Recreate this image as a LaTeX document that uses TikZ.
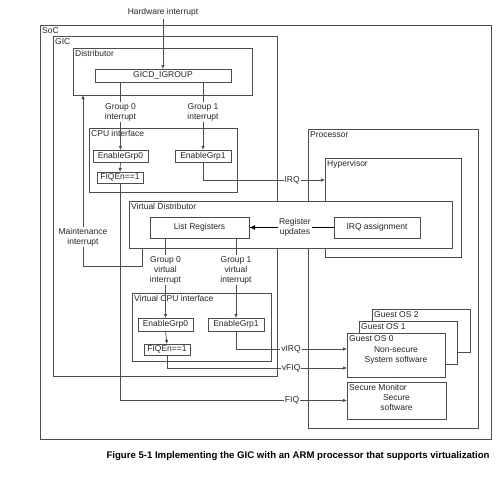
\documentclass[tikz,border=0pt]{standalone}
\usepackage{fontspec}
\setmainfont{Liberation Sans}
\usetikzlibrary{arrows.meta,calc}
\begin{document}
\begin{tikzpicture}[x=1pt,y=-1pt,
  every node/.style={font=\fontsize{8.5}{10}\selectfont, text=black!85},
  frame/.style={draw=black!70, line width=0.7pt, fill=white, anchor=north west, inner sep=0pt, outer sep=0pt},
  corner/.style={label={[anchor=north west, inner sep=2pt, font=\fontsize{8.5}{10}\selectfont, text=black!85]north west:#1}},
  lbl/.style={fill=white, inner sep=1pt, align=center},
  conn/.style={draw=black!70, line width=0.7pt},
  arr/.style={conn, -{Latex[length=4pt,width=3.5pt]}},
  thickarr/.style={draw=black, line width=1.6pt, -{Latex[length=6pt,width=5pt]}}
]
\useasboundingbox (0,0) rectangle (499,479);

% outer frames
\node[frame, minimum width=451, minimum height=414, corner=SoC] (soc) at (40,25) {};
\node[frame, minimum width=224, minimum height=340, corner=GIC] (gic) at (53,36) {};
\node[frame, minimum width=179, minimum height=47, corner=Distributor] (dist) at (73,48) {};
\node[frame, minimum width=136, minimum height=13] (gicd) at (95,69) {GICD\_IGROUP};
\node[frame, minimum width=148, minimum height=64, corner={CPU interface}] (cpu) at (89,128) {};
\node[frame, minimum width=55, minimum height=12] (en0) at (93,150) {EnableGrp0};
\node[frame, minimum width=56, minimum height=12] (en1) at (175,150) {EnableGrp1};
\node[frame, minimum width=46, minimum height=11] (fiq0) at (97,172) {FIQEn==1};
\node[frame, minimum width=170, minimum height=299, corner=Processor] (proc) at (308,129) {};
\node[frame, minimum width=136, minimum height=99, corner=Hypervisor] (hyp) at (325,158) {};

% virtual distributor (drawn over)
\node[frame, minimum width=323, minimum height=47, corner={Virtual Distributor}] (vd) at (129,201) {};
\node[frame, minimum width=99, minimum height=21] (lr) at (150,217) {List Registers};
\node[frame, minimum width=86, minimum height=21] (irqa) at (334,217) {IRQ assignment};

% virtual CPU interface
\node[frame, minimum width=139, minimum height=68, corner={Virtual CPU interface}] (vcpu) at (132,293) {};
\node[frame, minimum width=55, minimum height=13] (ven0) at (138,318) {EnableGrp0};
\node[frame, minimum width=56, minimum height=13] (ven1) at (208,318) {EnableGrp1};
\node[frame, minimum width=46, minimum height=11] (vfiq0) at (144,344) {FIQEn==1};

% guest OSes and secure monitor
\node[frame, minimum width=98, minimum height=43, corner={Guest OS 2}] (g2) at (372,309) {};
\node[frame, minimum width=98, minimum height=43, corner={Guest OS 1}] (g1) at (359,321) {};
\node[frame, minimum width=98, minimum height=44, corner={Guest OS 0}, align=center] (g0) at (347,333) {Non-secure\\System software};
\node[frame, minimum width=99, minimum height=37, corner={Secure Monitor}] (sm) at (347,382) {\raisebox{-5pt}[0pt][0pt]{\begin{tabular}{@{}c@{}}Secure\\software\end{tabular}}};

% hardware interrupt
\node (hw) at (163,12) {Hardware interrupt};
\draw[arr] (hw.south) -- (gicd.north);

% physical groups
\draw[arr] (gicd.south -| en0.north) -- node[lbl, pos=0.44] {Group 0\\interrupt} (en0.north);
\draw[arr] (gicd.south -| en1.north) -- node[lbl, pos=0.44] {Group 1\\interrupt} (en1.north);
\draw[arr] (en0.south) -- (fiq0.north);

% IRQ to hypervisor
\draw[arr] (en1.south) |- node[lbl, pos=0.865] {IRQ} ([yshift=-22pt]hyp.north west);

% FIQ to secure monitor
\draw[arr] (fiq0.south) |- node[lbl, pos=0.879] {FIQ} (sm.west);

% register updates
\draw[thickarr] (irqa.west) -- node[lbl, pos=0.46] {Register\\updates} (lr.east);

% maintenance interrupt
\coordinate (mcorner) at (83,266);
\draw[arr] ([xshift=13pt]vd.south west) |- (mcorner) -- node[lbl, pos=0.17] {Maintenance\\interrupt} (dist.south -| mcorner);

% virtual groups
\draw[arr] (lr.south -| ven0.north) -- node[lbl, pos=0.4] {Group 0\\virtual\\interrupt} (ven0.north);
\draw[arr] (lr.south -| ven1.north) -- node[lbl, pos=0.4] {Group 1\\virtual\\interrupt} (ven1.north);
\draw[arr] (ven0.south) -- (vfiq0.north);

% vIRQ, vFIQ
\draw[arr] (ven1.south) |- node[lbl, pos=0.748] {vIRQ} ([yshift=6pt]g0.west);
\draw[arr] (vfiq0.south) |- node[lbl, pos=0.845] {vFIQ} ([yshift=-13pt]g0.west);

% caption
\node[font=\bfseries\fontsize{9.6}{11}\selectfont, text=black] (cap) at (298,456) {Figure 5-1 Implementing the GIC with an ARM processor that supports virtualization};
\end{tikzpicture}
\end{document}
